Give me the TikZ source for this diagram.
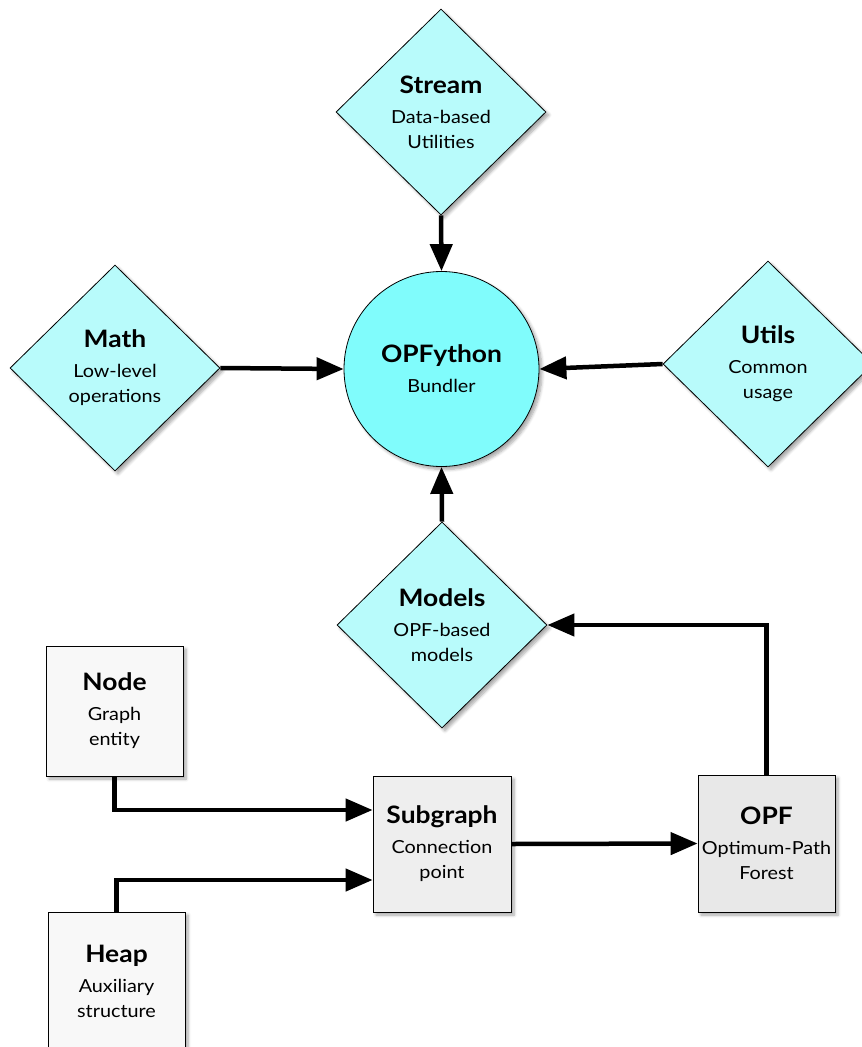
\documentclass[tikz,border=0pt]{standalone}
\usepackage{fontspec}
\setmainfont{Lato}[FakeStretch=1.1]
\usetikzlibrary{shapes.geometric,arrows.meta,shadows.blur}
\definecolor{diacol}{HTML}{B8FBFB}
\definecolor{circcol}{HTML}{80FCFC}
\definecolor{boxa}{HTML}{F8F8F8}
\definecolor{boxb}{HTML}{EEEEEE}
\definecolor{boxc}{HTML}{E8E8E8}
\newcommand\ttl[1]{{\fontsize{24}{28}\selectfont\bfseries #1}}
\tikzset{
  shad/.style={blur shadow={shadow xshift=3pt,shadow yshift=-3pt,shadow blur steps=6,shadow blur radius=3pt,shadow opacity=35}},
  dia/.style={diamond,draw=black,line width=0.8pt,fill=diacol,minimum width=210pt,minimum height=206pt,
    inner sep=0pt,align=center,font=\fontsize{18}{25}\selectfont,shad},
  bund/.style={circle,draw=black,line width=0.8pt,fill=circcol,minimum size=195pt,inner sep=0pt,
    align=center,font=\fontsize{18}{25}\selectfont,shad},
  box/.style={rectangle,draw=black,line width=0.8pt,minimum width=137pt,minimum height=134pt,inner sep=0pt,
    align=center,font=\fontsize{18}{25}\selectfont,shad},
  arr/.style={line width=4.5pt,-{Triangle[length=27pt,width=22pt]}}
}
\begin{document}
\begin{tikzpicture}[x=1pt,y=-1pt]
\useasboundingbox (0,0) rectangle (862,1047);
\node[dia] (stream) at (441,112) {\ttl{Stream}\\[5pt]Data-based\\Utilities};
\node[bund] (core) at (441.5,369) {\ttl{OPFython}\\[5pt]Bundler};
\node[dia] (math) at (115,368) {\ttl{Math}\\[5pt]Low-level\\operations};
\node[dia] (utils) at (768,364) {\ttl{Utils}\\[5pt]Common\\usage};
\node[dia] (models) at (442,625) {\ttl{Models}\\[5pt]OPF-based\\models};
\node[box,fill=boxa,minimum height=130pt] (nodeb) at (114.5,711) {\ttl{Node}\\[5pt]Graph\\entity};
\node[box,fill=boxb,minimum width=138pt,minimum height=136pt] (subg) at (442,844) {\ttl{Subgraph}\\[5pt]Connection\\point};
\node[box,fill=boxc,minimum height=137pt] (opf) at (766.5,843.5) {\ttl{OPF}\\[5pt]Optimum-Path\\Forest};
\node[box,fill=boxa,minimum height=138pt] (heap) at (116.5,981) {\ttl{Heap}\\[5pt]Auxiliary\\structure};
\draw[arr] (stream.south) -- (core.north);
\draw[arr] (math.east) -- (core.west);
\draw[arr] (utils.west) -- (core.east);
\draw[arr] (models.north) -- (core.south);
\draw[arr] (nodeb.south) |- ([yshift=34pt]subg.west);
\draw[arr] (heap.north) |- ([yshift=-36pt]subg.west);
\draw[arr] (subg.east) -- (opf.west);
\draw[arr] (opf.north) |- (models.east);
\end{tikzpicture}
\end{document}
